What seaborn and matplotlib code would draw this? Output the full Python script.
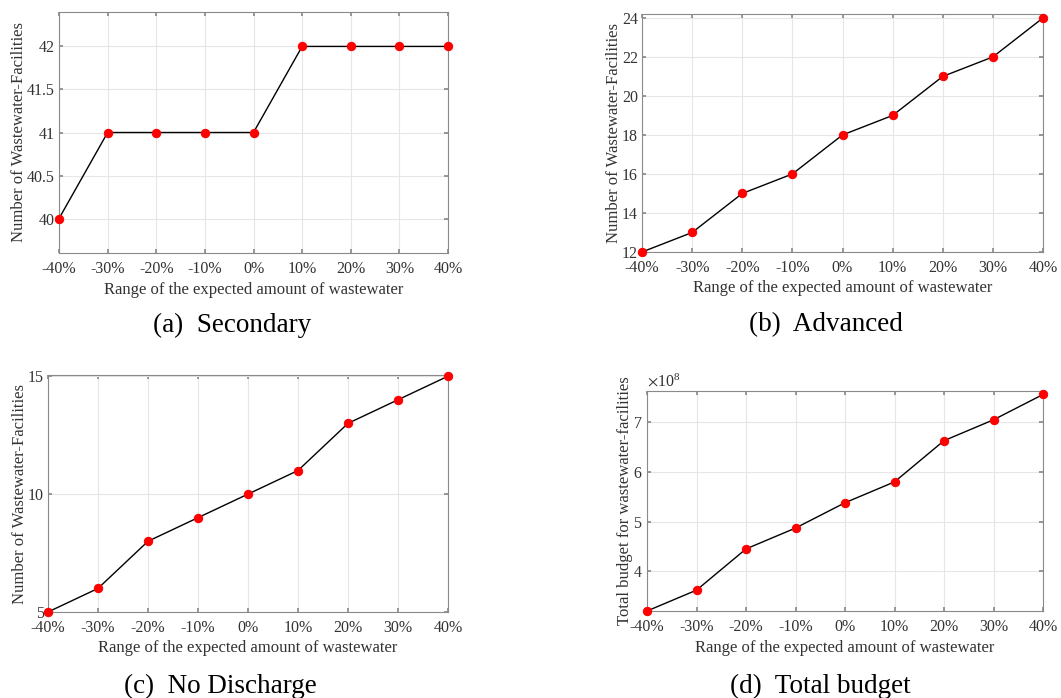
import matplotlib
matplotlib.use("Agg")
import matplotlib.pyplot as plt
import seaborn as sns
import numpy as np
import pandas as pd
from matplotlib.ticker import ScalarFormatter

sns.set_theme(style="white")
plt.rcParams['font.family'] = ['Liberation Serif', 'DejaVu Serif']
plt.rcParams['mathtext.fontset'] = 'stix'

x_pct = [-40, -30, -20, -10, 0, 10, 20, 30, 40]
x_labels = ["-40%", "-30%", "-20%", "-10%", "0%", "10%", "20%", "30%", "40%"]
secondary = [40, 41, 41, 41, 41, 42, 42, 42, 42]
advanced = [12, 13, 15, 16, 18, 19, 21, 22, 24]
no_discharge = [5, 6, 8, 9, 10, 11, 13, 14, 15]
total_budget = [3.20e8, 3.62e8, 4.45e8, 4.87e8, 5.38e8, 5.80e8, 6.63e8, 7.05e8, 7.56e8]

captions = ["(a)  Secondary", "(b)  Advanced", "(c)  No Discharge", "(d)  Total budget"]
ylabels = ["Number of Wastewater-Facilities"] * 3 + ["Total budget for wastewater-facilities"]
xlabel = "Range of the expected amount of wastewater"

W, H = 1061, 698
fig = plt.figure(figsize=(W / 100, H / 100), dpi=100)

# axes boxes in pixels: left, top, right, bottom
boxes = [(59, 12, 448, 253), (642, 14, 1043, 252), (48, 375, 448, 612), (647, 391, 1043, 611)]
ylims = [(39.6, 42.4), (12, 24.2), (5, 15.05), (3.2e8, 7.63e8)]
yticks = [[40, 40.5, 41, 41.5, 42], [12, 14, 16, 18, 20, 22, 24], [5, 10, 15], [4e8, 5e8, 6e8, 7e8]]
yticklabels = [["40", "40.5", "41", "41.5", "42"], None, None, None]
series = [secondary, advanced, no_discharge, total_budget]
cap_pos = [(232, 325), (826, 325), (220, 686), (820, 686)]

for i in range(4):
    l, t, r, b = boxes[i]
    ax = fig.add_axes([l / W, 1 - b / H, (r - l) / W, (b - t) / H])
    df = pd.DataFrame({"x": x_pct, "y": series[i]})
    sns.lineplot(data=df, x="x", y="y", ax=ax, color="black", linewidth=1.0,
                 marker="o", markersize=6, markerfacecolor="red", markeredgecolor="red")
    for ln in ax.lines:
        ln.set_clip_on(False)
        ln.set_zorder(5)
    ax.set_xlim(-40, 40)
    ax.set_ylim(*ylims[i])
    ax.set_xticks(x_pct)
    ax.set_xticklabels(x_labels)
    ax.set_yticks(yticks[i])
    if yticklabels[i] is not None:
        ax.set_yticklabels(yticklabels[i])
    if i == 3:
        fmt = ScalarFormatter(useMathText=True)
        fmt.set_powerlimits((0, 0))
        ax.yaxis.set_major_formatter(fmt)
        ax.yaxis.get_offset_text().set_fontsize(11.5)
        ax.yaxis.get_offset_text().set_color('#333333')
    ax.grid(True, color="#e6e6e6", linewidth=0.8)
    ax.set_axisbelow(True)
    for s in ax.spines.values():
        s.set_color("#8a8a8a")
        s.set_linewidth(0.8)
    ax.tick_params(axis='both', direction='in', length=3, color="#8a8a8a",
                   labelsize=11.5, labelcolor="#333333", top=True, right=True,
                   bottom=True, left=True)
    ax.tick_params(axis='x', pad=6)
    ax.tick_params(axis='y', pad=3)
    ax.set_xlabel(xlabel, fontsize=12, color="#333333", labelpad=3)
    ax.set_ylabel(ylabels[i], fontsize=12, color="#333333", labelpad=0)
    fig.text(cap_pos[i][0] / W, 1 - cap_pos[i][1] / H, captions[i], ha='center', va='center',
             fontsize=19.5, color='black')

fig.savefig("out.png", dpi=100)
